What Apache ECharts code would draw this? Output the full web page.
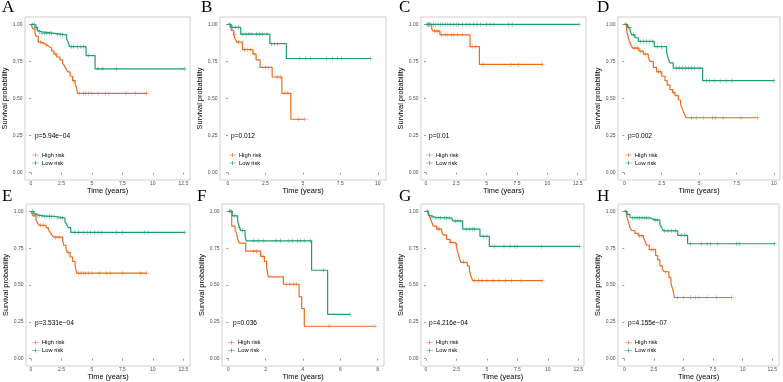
<!DOCTYPE html>
<html>
<head>
<meta charset="utf-8">
<script src="https://cdn.jsdelivr.net/npm/echarts@6/dist/echarts.min.js"></script>
<style>
html,body{margin:0;padding:0;background:#fff;}
#main{width:783px;height:382px;}
</style>
</head>
<body>
<div id="main"></div>
<script>
// panel letters, p values, tick labels
var panelLetters = ['A', 'B', 'C', 'D', 'E', 'F', 'G', 'H'];
var pValues = ['p=5.94e\u221204', 'p=0.012', 'p=0.01', 'p=0.002', 'p=3.531e\u221204', 'p=0.036', 'p=4.216e\u221204', 'p=4.155e\u221207'];
var groupNames = ['High risk', 'Low risk'];
var xTicks = [
  [0, 2.5, 5, 7.5, 10, 12.5],
  [0, 2.5, 5, 7.5, 10],
  [0, 2.5, 5, 7.5, 10, 12.5],
  [0, 2.5, 5, 7.5, 10],
  [0, 2.5, 5, 7.5, 10, 12.5],
  [0, 2, 4, 6, 8],
  [0, 2.5, 5, 7.5, 10, 12.5],
  [0, 2.5, 5, 7.5, 10, 12.5]
];
var yTicks = [0, 0.25, 0.5, 0.75, 1];

// KM steps: [time, survival from that time on]
var highA = [[0,1],[0.15,0.97],[0.33,0.94],[0.41,0.92],[0.6,0.88],[0.9,0.87],[1.15,0.86],[1.34,0.85],[1.51,0.84],[1.7,0.82],[1.89,0.80],[2.11,0.78],[2.38,0.76],[2.6,0.74],[2.74,0.72],[2.88,0.70],[3.01,0.68],[3.21,0.65],[3.42,0.62],[3.62,0.60],[3.75,0.57],[3.81,0.535],[9.5,0.535]];
var lowA = [[0,1],[0.33,0.98],[0.52,0.96],[0.68,0.95],[0.88,0.94],[1.97,0.93],[2.93,0.90],[3.07,0.88],[3.15,0.85],[4.52,0.79],[5.26,0.70],[12.6,0.70]];
var highCensA = [0.8, 1.0, 1.3, 2.0, 3.5, 4.0, 4.3, 4.5, 4.7, 5.0, 5.5, 6.1, 6.4, 7.8, 8.6, 9.5];
var lowCensA = [0.15, 0.3, 0.45, 0.7, 0.9, 1.1, 1.3, 1.5, 1.7, 2.2, 2.4, 2.6, 3.3, 3.5, 3.8, 4.1, 4.3, 4.7, 5.5, 5.9, 7.0, 12.6];

var highB = [[0,1],[0.22,0.96],[0.38,0.93],[0.49,0.90],[0.6,0.88],[0.96,0.83],[1.67,0.80],[1.88,0.76],[2.15,0.71],[2.95,0.645],[3.6,0.535],[4.2,0.36],[5.13,0.36]];
var lowB = [[0,1],[0.18,0.98],[0.85,0.935],[2.8,0.87],[3.9,0.77],[9.5,0.77]];
var highCensB = [0.45, 0.7, 1.1, 1.3, 1.5, 1.75, 2.5, 2.7, 3.3, 3.5, 3.8, 4.0, 4.7, 5.13];
var lowCensB = [0.1, 0.3, 0.5, 0.7, 1.0, 1.2, 1.4, 1.6, 1.9, 2.1, 2.3, 2.6, 2.9, 3.1, 3.3, 4.8, 5.2, 5.5, 6.6, 7.0, 7.3, 7.6, 9.5];

var highC = [[0,1],[0.47,0.97],[0.6,0.955],[1.15,0.93],[3.63,0.85],[4.4,0.73],[9.6,0.73]];
var lowC = [[0,1],[12.6,1]];
var highCensC = [0.2, 0.7, 0.9, 1.0, 1.3, 1.6, 1.8, 2.1, 2.3, 2.6, 3.0, 3.8, 4.1, 4.7, 7.0, 7.6, 9.6];
var lowCensC = [0.1, 0.2, 0.3, 0.4, 0.6, 0.8, 1.0, 1.2, 1.4, 1.6, 1.8, 2.0, 2.3, 2.5, 2.7, 3.0, 3.3, 3.6, 3.9, 4.2, 4.5, 5.0, 5.3, 5.6, 6.8, 7.1, 12.6];

var highD = [[0,1],[0.16,0.96],[0.22,0.93],[0.33,0.89],[0.45,0.86],[0.56,0.84],[0.98,0.82],[1.27,0.80],[1.6,0.78],[1.71,0.75],[1.94,0.71],[2.16,0.68],[2.5,0.65],[2.72,0.62],[2.87,0.59],[3.05,0.56],[3.23,0.54],[3.39,0.52],[3.61,0.49],[3.76,0.46],[3.88,0.43],[3.99,0.40],[4.12,0.37],[8.9,0.37]];
var lowD = [[0,1],[0.22,0.98],[0.38,0.96],[0.49,0.93],[0.71,0.91],[0.94,0.885],[2.0,0.85],[2.83,0.81],[2.94,0.77],[3.05,0.74],[3.27,0.705],[5.23,0.62],[10.0,0.62]];
var highCensD = [0.7, 0.9, 1.1, 1.4, 2.3, 2.4, 3.3, 4.5, 4.8, 5.3, 5.9, 6.1, 6.6, 7.8, 8.9];
var lowCensD = [0.1, 0.3, 0.6, 1.1, 1.3, 1.5, 1.7, 1.9, 2.2, 2.5, 3.5, 3.7, 3.9, 4.1, 4.3, 4.5, 4.7, 5.0, 5.5, 5.7, 6.0, 6.4, 6.8, 7.2, 10.0];

var highE = [[0,1],[0.15,0.97],[0.41,0.94],[0.55,0.92],[0.68,0.905],[1.23,0.89],[1.42,0.875],[1.56,0.86],[1.7,0.84],[1.84,0.825],[2.6,0.80],[2.71,0.77],[2.88,0.74],[3.01,0.72],[3.21,0.69],[3.42,0.66],[3.62,0.63],[3.75,0.58],[9.5,0.58]];
var lowE = [[0,1],[0.19,0.985],[0.33,0.975],[0.6,0.97],[1.01,0.965],[2.05,0.955],[2.79,0.93],[2.93,0.91],[3.07,0.89],[3.26,0.857],[12.6,0.857]];
var highCensE = [0.8, 1.0, 2.0, 2.3, 3.1, 3.9, 4.1, 4.3, 4.5, 4.7, 5.0, 5.6, 6.2, 6.5, 7.5, 9.0, 9.5];
var lowCensE = [0.15, 0.3, 0.5, 0.7, 0.9, 1.1, 1.3, 1.5, 1.7, 1.9, 2.2, 2.4, 2.6, 3.6, 3.9, 4.3, 4.6, 4.9, 5.2, 5.5, 5.8, 7.0, 7.5, 9.3, 9.6, 12.6];

var highF = [[0,1],[0.18,0.90],[0.36,0.87],[0.45,0.85],[0.5,0.81],[0.59,0.785],[0.93,0.73],[1.73,0.695],[1.93,0.66],[2.05,0.62],[2.14,0.555],[2.95,0.505],[3.79,0.42],[3.93,0.34],[4.07,0.22],[7.86,0.22]];
var lowF = [[0,1],[0.21,0.97],[0.5,0.93],[0.59,0.89],[0.68,0.87],[0.89,0.84],[0.95,0.80],[4.46,0.60],[5.32,0.30],[6.52,0.30]];
var highCensF = [0.1, 1.35, 1.5, 1.85, 3.1, 3.3, 3.5, 3.65, 5.4, 7.86];
var lowCensF = [0.05, 0.15, 0.35, 0.6, 0.75, 1.35, 1.6, 1.9, 2.55, 2.8, 3.25, 3.45, 3.7, 3.85, 4.1, 4.4, 5.1, 6.52];

var highG = [[0,1],[0.19,0.98],[0.33,0.96],[0.46,0.93],[0.6,0.90],[0.88,0.88],[1.29,0.86],[1.42,0.84],[1.7,0.81],[1.97,0.79],[2.24,0.78],[2.52,0.75],[2.65,0.71],[2.79,0.67],[2.87,0.654],[3.39,0.63],[3.56,0.60],[3.69,0.56],[3.83,0.53],[9.57,0.53]];
var lowG = [[0,1],[0.19,0.985],[0.27,0.97],[0.46,0.96],[0.74,0.955],[2.11,0.945],[2.19,0.935],[3.01,0.88],[4.43,0.83],[5.2,0.762],[12.6,0.762]];
var highCensG = [1.0, 1.1, 2.0, 2.4, 3.1, 4.0, 4.3, 4.6, 5.0, 5.5, 6.0, 6.5, 7.0, 7.8, 9.57];
var lowCensG = [0.1, 0.3, 0.5, 0.8, 1.0, 1.2, 1.5, 1.7, 1.9, 2.4, 2.6, 2.8, 3.3, 3.6, 3.8, 4.0, 4.7, 5.0, 5.6, 6.4, 6.9, 7.3, 7.5, 9.5, 12.6];

var highH = [[0,1],[0.2,0.97],[0.34,0.93],[0.48,0.89],[0.62,0.87],[0.9,0.85],[1.18,0.835],[1.61,0.82],[1.75,0.80],[1.89,0.77],[2.11,0.74],[2.65,0.70],[2.82,0.67],[3.01,0.63],[3.21,0.61],[3.35,0.59],[3.77,0.55],[3.94,0.51],[4.06,0.48],[4.14,0.455],[4.23,0.415],[9.07,0.415]];
var lowH = [[0,1],[0.2,0.98],[0.48,0.96],[0.62,0.955],[2.25,0.945],[2.45,0.94],[3.01,0.91],[3.15,0.89],[3.3,0.868],[4.51,0.837],[5.35,0.78],[12.7,0.78]];
var highCensH = [1.3, 1.5, 2.3, 2.5, 3.5, 4.5, 5.0, 5.6, 6.0, 6.3, 7.0, 7.8, 9.07];
var lowCensH = [0.1, 0.3, 0.7, 0.9, 1.1, 1.3, 1.5, 1.7, 1.9, 2.1, 2.6, 2.8, 3.4, 3.7, 4.0, 4.3, 4.8, 5.1, 5.6, 6.5, 7.0, 7.3, 7.9, 9.5, 9.7, 12.7];

var highCurves = [highA, highB, highC, highD, highE, highF, highG, highH];
var lowCurves = [lowA, lowB, lowC, lowD, lowE, lowF, lowG, lowH];
var highCens = [highCensA, highCensB, highCensC, highCensD, highCensE, highCensF, highCensG, highCensH];
var lowCens = [lowCensA, lowCensB, lowCensC, lowCensD, lowCensE, lowCensF, lowCensG, lowCensH];

// layout of each panel (pixels) and x range
var layout = [
  {left: 25,  top: 17,  width: 165, height: 163, xmin: -0.49, xmax: 13.05, letter: [2, -1],  p: [35, 136],  leg: [32, 152]},
  {left: 220, top: 17,  width: 166, height: 163, xmin: -0.53, xmax: 10.55, letter: [201, -1], p: [231, 136], leg: [229, 152]},
  {left: 421, top: 17,  width: 165, height: 163, xmin: -0.41, xmax: 13.18, letter: [399, -1], p: [429, 136], leg: [426, 152]},
  {left: 618, top: 17,  width: 162, height: 163, xmin: -0.42, xmax: 10.4,  letter: [597, -1], p: [628, 136], leg: [625, 152]},
  {left: 26,  top: 204, width: 164, height: 162, xmin: -0.41, xmax: 13.05, letter: [2, 188],  p: [35, 323],  leg: [32, 339.5]},
  {left: 222, top: 204, width: 162, height: 162, xmin: -0.34, xmax: 8.34,  letter: [197, 188], p: [233, 323], leg: [228, 339.5]},
  {left: 421, top: 204, width: 163, height: 162, xmin: -0.41, xmax: 12.97, letter: [399, 188], p: [429, 323], leg: [426, 339.5]},
  {left: 618, top: 204, width: 161, height: 162, xmin: -0.53, xmax: 13.07, letter: [597, 188], p: [628, 323], leg: [625, 339.5]}
];

var colHigh = '#EE6A1F';
var colLow = '#1B9E77';
var plusPath = 'path://M4.4,0h1.2v4.4h4.4v1.2h-4.4v4.4h-1.2v-4.4h-4.4v-1.2h4.4z';
var keyPath = 'path://M0,4.4h12v1.2H0z M5.4,1.5h1.2v7h-1.2z';
var sans = 'Liberation Sans';

function stepAt(curve, t) {
  var s = curve[0][1];
  for (var i = 0; i < curve.length; i++) {
    if (curve[i][0] <= t) s = curve[i][1];
  }
  return s;
}

var chart = echarts.init(document.getElementById('main'), null, {renderer: 'canvas'});
var grids = [], xAxes = [], yAxes = [], series = [], legends = [], graphics = [];

layout.forEach(function (L, i) {
  grids.push({left: L.left, top: L.top, width: L.width, height: L.height, show: true,
    borderColor: '#cfcfcf', borderWidth: 1, backgroundColor: 'transparent'});
  xAxes.push({
    type: 'value', gridIndex: i, min: L.xmin, max: L.xmax,
    name: 'Time (years)', nameLocation: 'middle', nameGap: 6.5,
    nameTextStyle: {fontSize: 7.4, color: '#000', fontFamily: sans},
    axisLine: {show: false},
    axisTick: {show: true, length: 2, customValues: xTicks[i], lineStyle: {color: '#555', width: 0.6}},
    axisLabel: {customValues: xTicks[i], fontSize: 5, color: '#4d4d4d', margin: 1.5, fontFamily: sans},
    splitLine: {show: false}
  });
  yAxes.push({
    type: 'value', gridIndex: i, min: -0.05, max: 1.05,
    name: 'Survival probability', nameLocation: 'middle', nameGap: 11.5,
    nameTextStyle: {fontSize: 7.4, color: '#000', fontFamily: sans},
    axisLine: {show: false},
    axisTick: {show: true, length: 2, customValues: yTicks, lineStyle: {color: '#555', width: 0.6}},
    axisLabel: {customValues: yTicks, fontSize: 5, color: '#4d4d4d', margin: 2.5, fontFamily: sans,
      formatter: function (v) { return v.toFixed(2); }},
    splitLine: {show: false}
  });

  var pairs = [[highCurves[i], highCens[i], colHigh, groupNames[0]], [lowCurves[i], lowCens[i], colLow, groupNames[1]]];
  pairs.forEach(function (g) {
    series.push({
      type: 'line', name: g[3], xAxisIndex: i, yAxisIndex: i, data: g[0], step: 'end',
      symbol: 'none', showSymbol: false, silent: true,
      lineStyle: {color: g[2], width: 1.2}, itemStyle: {color: g[2]}
    });
  });
  pairs.forEach(function (g) {
    series.push({
      type: 'scatter', xAxisIndex: i, yAxisIndex: i, silent: true,
      data: g[1].map(function (t) { return [t, stepAt(g[0], t)]; }),
      symbol: plusPath, symbolSize: 4.5, itemStyle: {color: g[2]}
    });
  });

  legends.push({
    data: groupNames, orient: 'vertical', left: L.leg[0], top: L.leg[1], padding: 0,
    itemWidth: 7, itemHeight: 4, itemGap: 2, icon: keyPath, selectedMode: false,
    textStyle: {fontSize: 5.8, color: '#000', fontFamily: sans, padding: [0, 0, 0, -2]}
  });

  graphics.push({type: 'text', left: L.letter[0], top: L.letter[1],
    style: {text: panelLetters[i], fontSize: 17, fontFamily: 'Liberation Serif', fill: '#000'}});
  graphics.push({type: 'text', x: L.p[0], y: L.p[1],
    style: {text: pValues[i], fontSize: 6.6, fontFamily: sans, fill: '#000', textVerticalAlign: 'middle'}});
});

chart.setOption({
  animation: false,
  backgroundColor: '#fff',
  grid: grids,
  xAxis: xAxes,
  yAxis: yAxes,
  legend: legends,
  series: series,
  graphic: graphics
});
</script>
</body>
</html>
